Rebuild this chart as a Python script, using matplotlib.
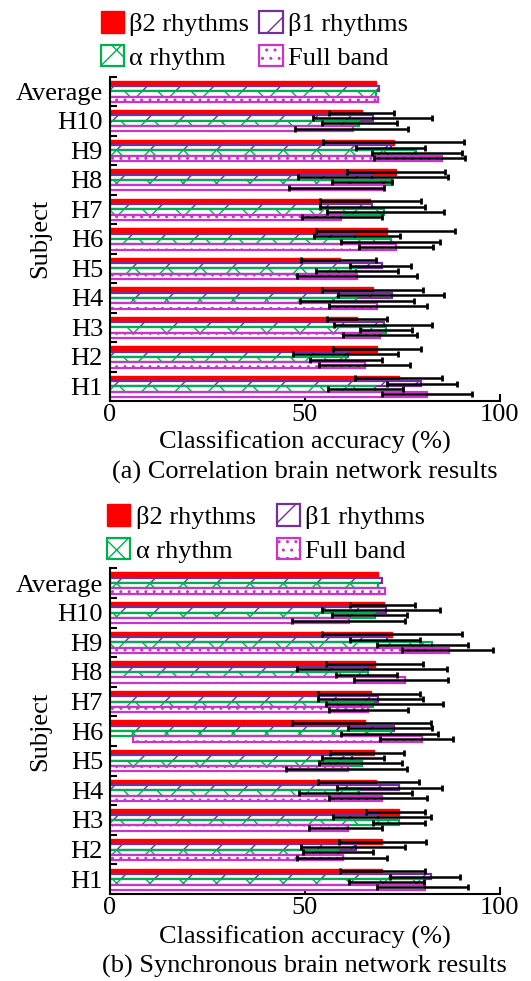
import numpy as np
import matplotlib
matplotlib.use("Agg")
import matplotlib.pyplot as plt

plt.rcParams['font.family'] = ['Liberation Serif', 'DejaVu Serif']
plt.rcParams['hatch.linewidth'] = 1.0

# subjects from bottom to top of the y axis
subjects = ['H1', 'H2', 'H3', 'H4', 'H5', 'H6', 'H7', 'H8', 'H9', 'H10', 'Average']
bands = ['β2 rhythms', 'β1 rhythms', 'α rhythm', 'Full band']
band_colors = ['#FF0000', '#7030A0', '#00B050', '#CC33CC']
band_hatches = [None, '/', 'x', '..']

# (a) correlation brain network: accuracy (%) and error-bar range per subject
corr_b2 = [74.2, 68.5, 63.4, 67.5, 59.0, 71.1, 66.7, 73.5, 72.8, 64.7, 68.2]
corr_b1 = [79.9, 61.1, 70.3, 72.4, 69.7, 63.0, 67.3, 67.3, 72.0, 67.5, 69.1]
corr_alpha = [68.0, 60.7, 70.9, 63.2, 63.2, 72.0, 70.3, 72.5, 78.6, 63.9, 68.2]
corr_full = [81.4, 65.4, 69.2, 68.5, 63.4, 73.5, 59.4, 70.3, 85.1, 62.4, 68.8]

corr_b2_lo = [63.0, 57.3, 55.7, 54.4, 49.1, 53.0, 53.8, 60.9, 54.7, 56.2]
corr_b2_hi = [85.2, 79.9, 71.1, 80.4, 68.2, 88.5, 79.8, 86.1, 90.8, 72.9]
corr_b1_lo = [71.0, 47.1, 57.5, 58.6, 61.5, 52.3, 53.8, 48.2, 63.2, 52.1]
corr_b1_hi = [89.1, 74.0, 82.6, 85.6, 77.3, 74.4, 80.9, 86.7, 80.9, 82.6]
corr_alpha_lo = [55.9, 51.4, 64.1, 48.8, 52.8, 59.4, 55.7, 56.9, 67.2, 54.4]
corr_alpha_hi = [75.1, 69.7, 77.4, 77.9, 73.9, 84.6, 85.8, 72.4, 90.4, 73.7]
corr_full_lo = [69.7, 53.7, 59.9, 56.1, 48.0, 63.8, 49.2, 46.0, 67.7, 47.6]
corr_full_hi = [92.9, 77.1, 78.7, 81.4, 78.9, 82.9, 69.7, 70.3, 91.1, 76.5]

# (b) synchronous brain network
sync_b2 = [69.9, 69.9, 74.2, 68.2, 67.7, 65.4, 67.1, 68.1, 72.5, 70.3, 68.8]
sync_b1 = [82.5, 63.2, 68.8, 74.2, 62.0, 72.8, 68.8, 66.2, 71.0, 70.9, 69.9]
sync_alpha = [80.5, 58.5, 74.2, 64.0, 64.8, 72.0, 67.5, 66.2, 82.7, 68.0, 68.8]
sync_full = [80.8, 59.7, 61.1, 69.9, 61.1, 80.1, 66.2, 75.6, 86.9, 61.4, 70.7]
sync_full_start = [0, 0, 0, 0, 0, 5.9, 0, 0, 0, 0, 0]

sync_b2_lo = [59.0, 58.7, 65.6, 53.4, 56.4, 46.8, 53.5, 55.4, 54.4, 61.5]
sync_b2_hi = [80.9, 81.0, 80.9, 79.3, 75.5, 82.3, 79.5, 80.4, 90.4, 78.3]
sync_b1_lo = [71.8, 49.1, 57.3, 58.3, 54.4, 61.1, 53.5, 48.0, 61.5, 54.4]
sync_b1_hi = [89.7, 75.8, 82.3, 85.2, 70.3, 82.7, 80.4, 86.4, 79.5, 84.8]
sync_alpha_lo = [61.4, 49.6, 67.5, 48.5, 53.7, 59.2, 55.4, 58.1, 68.5, 57.1]
sync_alpha_hi = [80.6, 67.5, 80.8, 77.5, 74.9, 84.1, 85.5, 73.6, 91.9, 76.3]
sync_full_lo = [68.5, 47.9, 51.1, 56.2, 45.1, 69.2, 56.2, 62.5, 75.0, 46.8]
sync_full_hi = [91.9, 71.2, 69.9, 81.4, 76.1, 88.0, 76.5, 86.7, 98.3, 75.7]

FS = 19
BAR_H = 0.18
OFFSETS = [0.27, 0.09, -0.09, -0.27]


def draw_panel(ax, values, lows, highs, starts, caption, label_y, caption_y,
               legend_anchor, legend_colspace):
    y = np.arange(len(subjects))
    handles = []
    for k in range(4):
        vals = np.asarray(values[k], dtype=float)
        left = np.asarray(starts[k], dtype=float)
        yk = y + OFFSETS[k]
        if k == 0:
            h = ax.barh(yk, vals - left, left=left, height=BAR_H, color=band_colors[k],
                        edgecolor=band_colors[k], linewidth=1.0, label=bands[k], zorder=2)
        else:
            h = ax.barh(yk, vals - left, left=left, height=BAR_H, facecolor='white',
                        edgecolor=band_colors[k], hatch=band_hatches[k], linewidth=1.6,
                        label=bands[k], zorder=2)
        handles.append(h)

    # error bars only for the individual subjects
    for k in range(4):
        lo = np.asarray(lows[k])
        hi = np.asarray(highs[k])
        yk = y[:len(lo)] + OFFSETS[k]
        ax.errorbar((lo + hi) / 2, yk, xerr=(hi - lo) / 2, fmt='none', ecolor='black',
                    elinewidth=1.8, capsize=2.2, capthick=2.0, zorder=3)

    ax.set_xlim(0, 100)
    ax.set_ylim(-0.5, 10.5)
    ax.spines['top'].set_visible(False)
    ax.spines['right'].set_visible(False)
    for s in ('left', 'bottom'):
        ax.spines[s].set_linewidth(1.5)

    ax.set_xticks([0, 50, 100])
    ax.tick_params(axis='x', direction='in', length=5, width=1.5, labelsize=FS, pad=2)
    ax.set_yticks(y)
    ax.set_yticklabels(subjects)
    ax.tick_params(axis='y', which='major', length=0, labelsize=FS, pad=5)
    ax.set_yticks(np.arange(-0.5, 11, 1), minor=True)
    ax.tick_params(axis='y', which='minor', direction='in', length=5, width=1.5)

    ax.set_xlabel('Classification accuracy (%)', fontsize=FS, va='center')
    ax.xaxis.set_label_coords(0.5, label_y)
    ax.set_ylabel('Subject', fontsize=FS, va='center')
    ax.yaxis.set_label_coords(-0.18, 0.5)
    ax.text(0.5, caption_y, caption, transform=ax.transAxes, ha='center', va='center',
            fontsize=FS)

    # legend filled row by row: β2, β1 / α, full band
    order = [0, 2, 1, 3]
    ax.legend([handles[i] for i in order], [bands[i] for i in order],
              loc='upper left', bbox_to_anchor=legend_anchor,
              bbox_transform=ax.figure.transFigure, ncol=2, frameon=False,
              fontsize=FS, handlelength=0.88, handleheight=0.88, handletextpad=0.2,
              columnspacing=legend_colspace, labelspacing=0.34, borderpad=0,
              borderaxespad=0)


fig = plt.figure(figsize=(5.31, 9.81), dpi=100)
ax_a = fig.add_axes([0.207, 0.591, 0.734, 0.331])
ax_b = fig.add_axes([0.207, 0.0887, 0.734, 0.332])

draw_panel(ax_a,
           [corr_b2, corr_b1, corr_alpha, corr_full],
           [corr_b2_lo, corr_b1_lo, corr_alpha_lo, corr_full_lo],
           [corr_b2_hi, corr_b1_hi, corr_alpha_hi, corr_full_hi],
           [np.zeros(11)] * 4,
           '(a) Correlation brain network results', -0.125, -0.218,
           (0.19, 0.9888), 0.38)
draw_panel(ax_b,
           [sync_b2, sync_b1, sync_alpha, sync_full],
           [sync_b2_lo, sync_b1_lo, sync_alpha_lo, sync_full_lo],
           [sync_b2_hi, sync_b1_hi, sync_alpha_hi, sync_full_hi],
           [np.zeros(11), np.zeros(11), np.zeros(11), sync_full_start],
           '(b) Synchronous brain network results', -0.132, -0.221,
           (0.202, 0.4862), 0.8)

fig.savefig('out.png', dpi=100)
